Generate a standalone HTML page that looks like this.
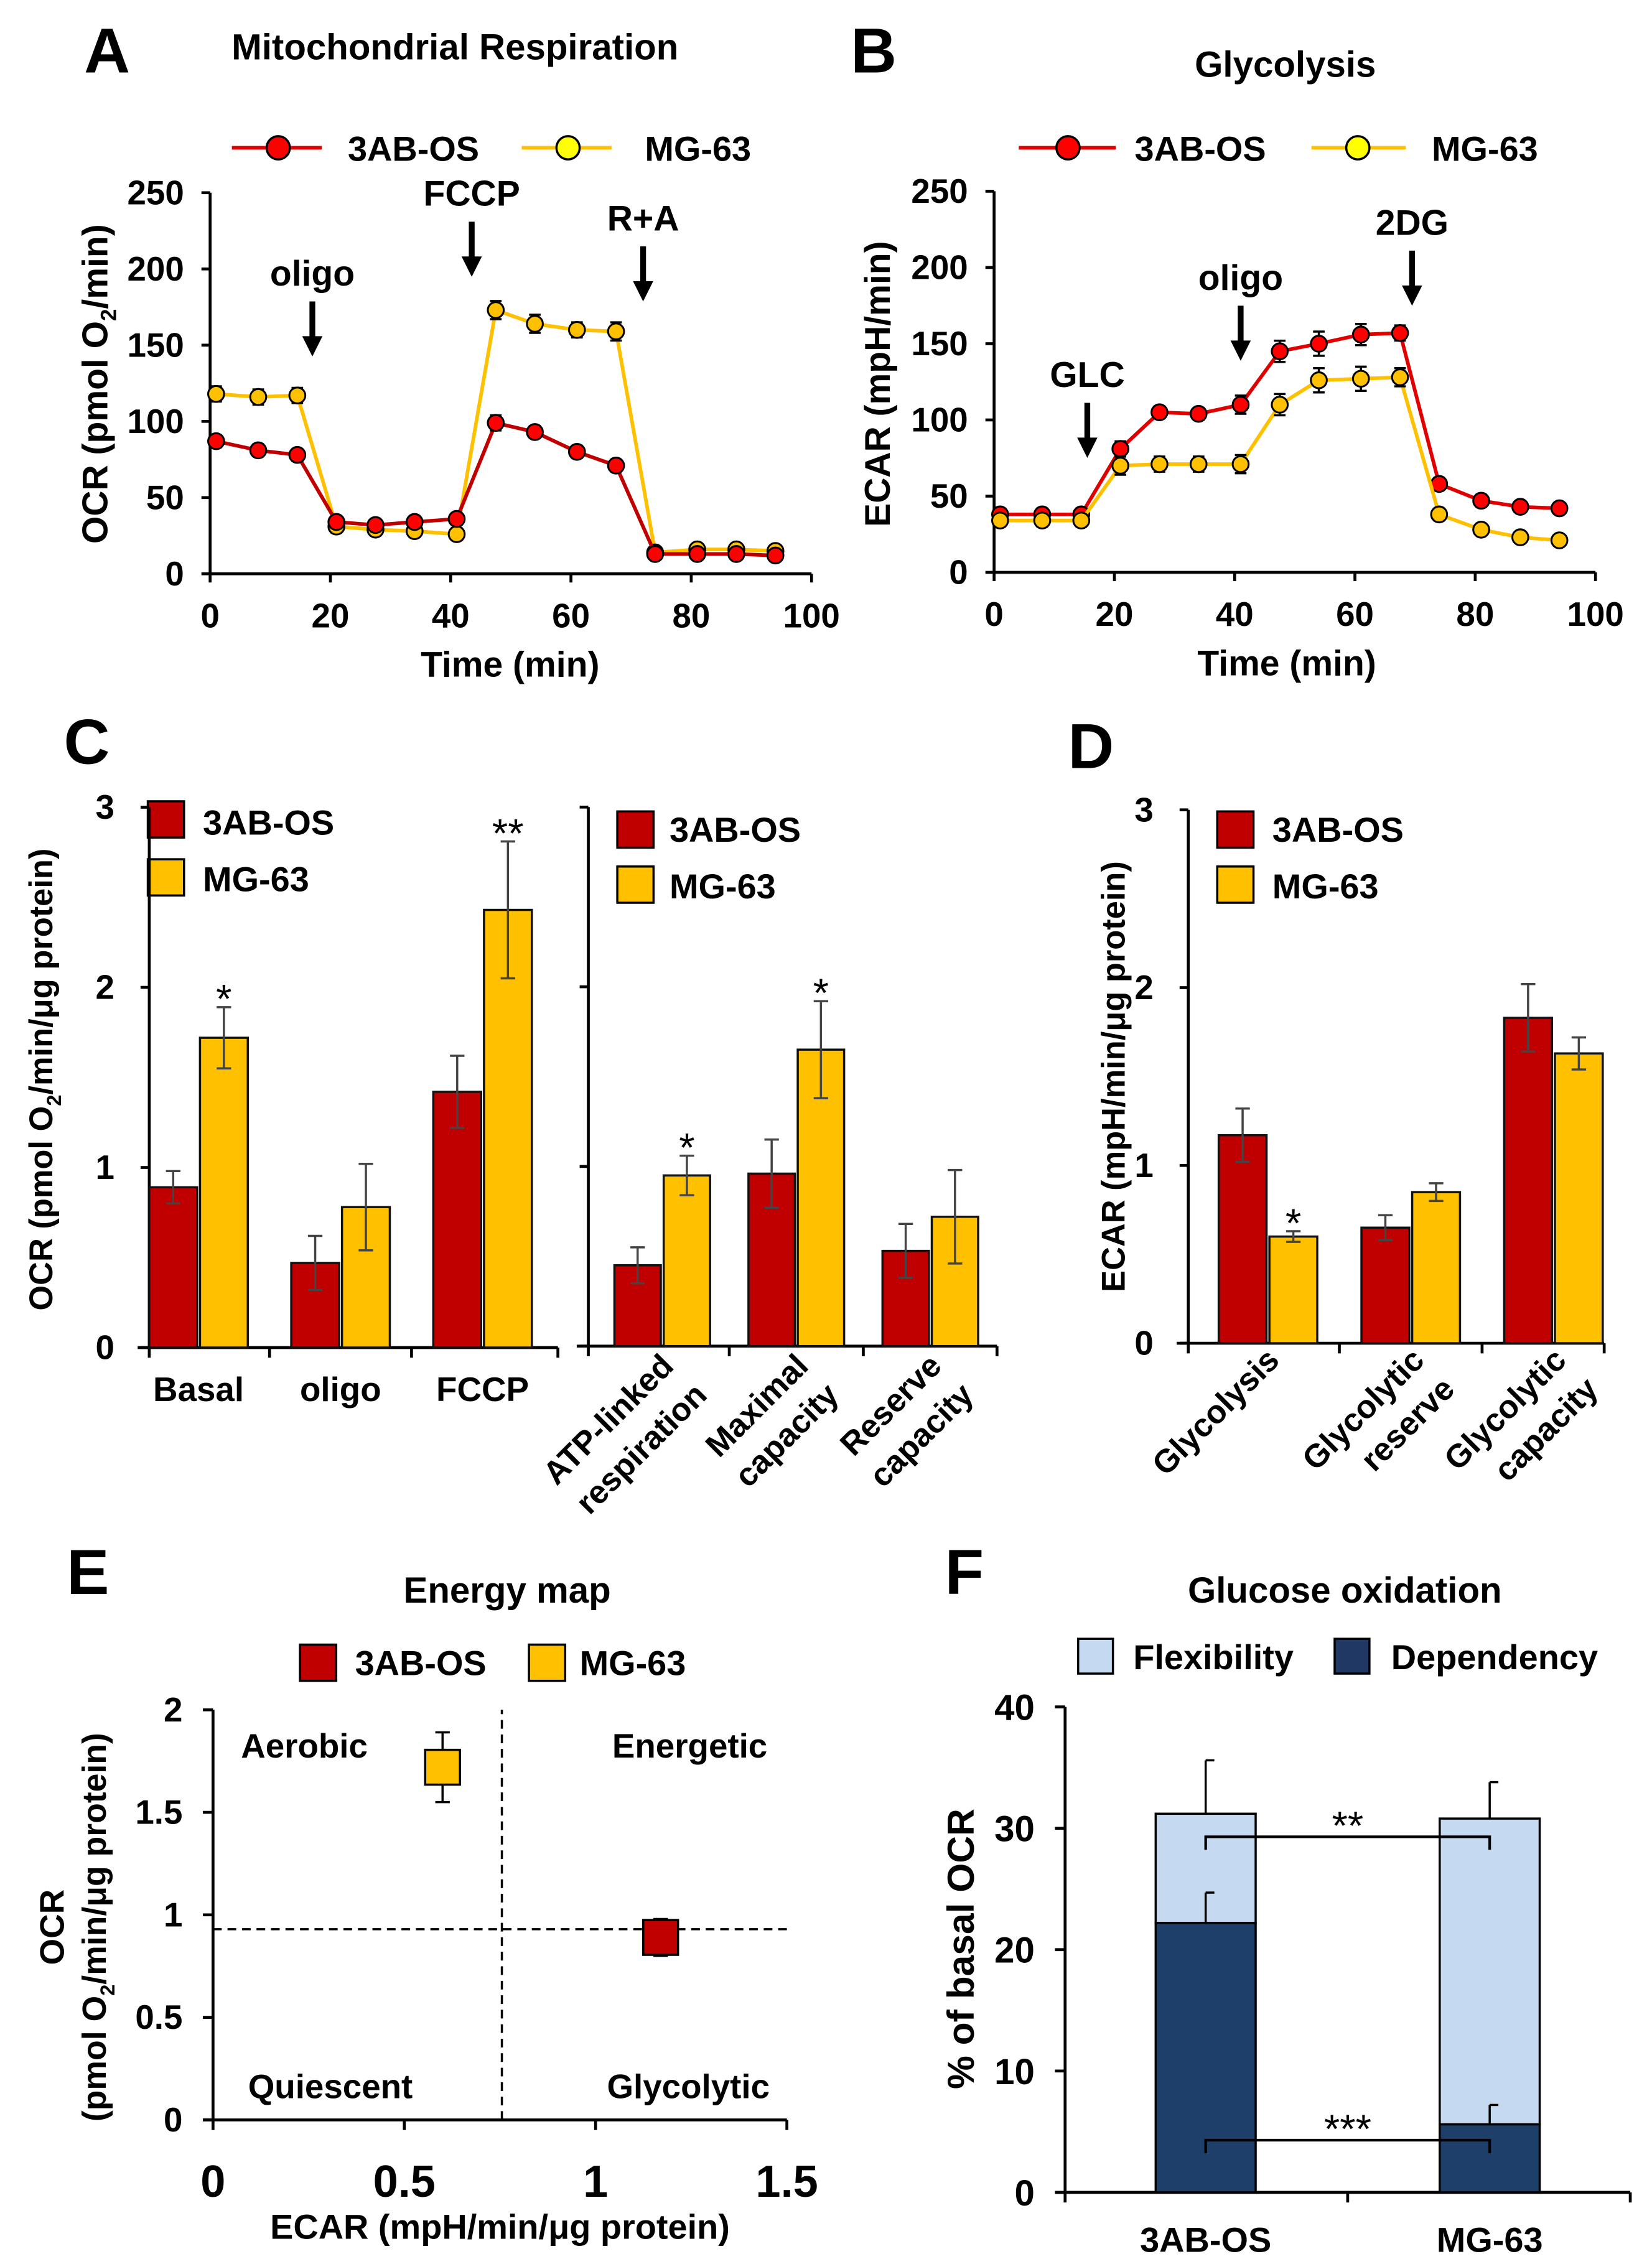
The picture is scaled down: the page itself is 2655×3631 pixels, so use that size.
<!DOCTYPE html>
<html><head><meta charset="utf-8"><style>
html,body{margin:0;padding:0;background:#fff;}
svg{display:block;font-family:"Liberation Sans",Arial,sans-serif;font-weight:bold;}
</style></head><body>
<svg id="fig" width="2655" height="3631" viewBox="0 0 1140 1559" preserveAspectRatio="none" xmlns="http://www.w3.org/2000/svg">
<rect width="1140" height="1559" fill="#fff"/>
<text x="58" y="50" font-size="44">A</text>
<text x="314" y="41" font-size="25" text-anchor="middle">Mitochondrial Respiration</text>
<text x="587" y="50" font-size="44">B</text>
<text x="887" y="53" font-size="25" text-anchor="middle">Glycolysis</text>
<text x="44" y="527" font-size="44">C</text>
<text x="737" y="530" font-size="44">D</text>
<text x="46" y="1100" font-size="44">E</text>
<text x="350" y="1106" font-size="25" text-anchor="middle">Energy map</text>
<text x="652" y="1100" font-size="44">F</text>
<text x="928" y="1106" font-size="25" text-anchor="middle">Glucose oxidation</text>

<text transform="translate(74,265) rotate(-90)" font-size="24.5" text-anchor="middle">OCR (pmol O<tspan font-size="15" dy="6">2</tspan><tspan dy="-6">/min)</tspan></text>
<text x="352" y="467" font-size="24.5" text-anchor="middle">Time (min)</text>
<text transform="translate(614,265) rotate(-90)" font-size="24.5" text-anchor="middle">ECAR (mpH/min)</text>
<text x="888" y="466" font-size="24.5" text-anchor="middle">Time (min)</text>
<text transform="translate(36,745) rotate(-90)" font-size="22.5" text-anchor="middle">OCR (pmol O<tspan font-size="14" dy="6">2</tspan><tspan dy="-6">/min/μg protein)</tspan></text>
<text transform="translate(776,743) rotate(-90)" font-size="22.5" text-anchor="middle">ECAR (mpH/min/μg protein)</text>
<text transform="translate(44,1330) rotate(-90)" font-size="23.5" text-anchor="middle">OCR</text>
<text transform="translate(73,1330) rotate(-90)" font-size="23" text-anchor="middle">(pmol O<tspan font-size="14" dy="6">2</tspan><tspan dy="-6">/min/μg protein)</tspan></text>
<text x="345" y="1545" font-size="24" text-anchor="middle">ECAR (mpH/min/μg protein)</text>
<text transform="translate(672,1345) rotate(-90)" font-size="26" text-anchor="middle">% of  basal OCR</text>

<g>
<line x1="160" y1="102" x2="222" y2="102" stroke="#e00000" stroke-width="2.5"/><circle cx="192" cy="102" r="8" fill="#ff0000" stroke="#000" stroke-width="1.5"/>
<text x="240" y="111" font-size="24">3AB-OS</text>
<line x1="360" y1="102" x2="422" y2="102" stroke="#ffc000" stroke-width="2.5"/><circle cx="392" cy="102" r="8" fill="#ffff00" stroke="#000" stroke-width="1.5"/>
<text x="445" y="111" font-size="24">MG-63</text>
</g>
<g>
<line x1="703" y1="102" x2="770" y2="102" stroke="#e00000" stroke-width="2.5"/><circle cx="737" cy="102" r="8" fill="#ff0000" stroke="#000" stroke-width="1.5"/>
<text x="783" y="111" font-size="24">3AB-OS</text>
<line x1="905" y1="102" x2="970" y2="102" stroke="#ffc000" stroke-width="2.5"/><circle cx="937" cy="102" r="8" fill="#ffff00" stroke="#000" stroke-width="1.5"/>
<text x="988" y="111" font-size="24">MG-63</text>
</g>
<g>
<rect x="102" y="553" width="25" height="25" fill="#c00000" stroke="#000" stroke-width="1.5"/><text x="140" y="576" font-size="24">3AB-OS</text>
<rect x="102" y="593" width="25" height="25" fill="#ffc000" stroke="#000" stroke-width="1.5"/><text x="140" y="615" font-size="24">MG-63</text>
</g>
<g>
<rect x="426" y="560" width="25" height="25" fill="#c00000" stroke="#000" stroke-width="1.5"/><text x="462" y="581" font-size="24">3AB-OS</text>
<rect x="426" y="598" width="25" height="25" fill="#ffc000" stroke="#000" stroke-width="1.5"/><text x="462" y="620" font-size="24">MG-63</text>
</g>
<g>
<rect x="840" y="560" width="25" height="25" fill="#c00000" stroke="#000" stroke-width="1.5"/><text x="878" y="581" font-size="24">3AB-OS</text>
<rect x="840" y="598" width="25" height="25" fill="#ffc000" stroke="#000" stroke-width="1.5"/><text x="878" y="620" font-size="24">MG-63</text>
</g>
<g>
<rect x="207" y="1135" width="25" height="25" fill="#c00000" stroke="#000" stroke-width="1.5"/><text x="245" y="1156" font-size="24">3AB-OS</text>
<rect x="365" y="1135" width="25" height="25" fill="#ffc000" stroke="#000" stroke-width="1.5"/><text x="400" y="1156" font-size="24">MG-63</text>
</g>
<g>
<rect x="744" y="1131" width="24" height="24" fill="#c5d9f1" stroke="#000" stroke-width="1.5"/><text x="782" y="1152" font-size="24">Flexibility</text>
<rect x="921" y="1131" width="24" height="24" fill="#1f3864" stroke="#000" stroke-width="1.5"/><text x="960" y="1152" font-size="24">Dependency</text>
</g>

<g font-size="22.5">
<text transform="translate(466,944) rotate(-45)" text-anchor="end">ATP-linked</text>
<text transform="translate(489,964) rotate(-45)" text-anchor="end">respiration</text>
<text transform="translate(559,944) rotate(-45)" text-anchor="end">Maximal</text>
<text transform="translate(580,964) rotate(-45)" text-anchor="end">capacity</text>
<text transform="translate(651,944) rotate(-45)" text-anchor="end">Reserve</text>
<text transform="translate(673,964) rotate(-45)" text-anchor="end">capacity</text>
</g>
<g font-size="22.5">
<text transform="translate(884,940) rotate(-45)" text-anchor="end">Glycolysis</text>
<text transform="translate(984,940) rotate(-45)" text-anchor="end">Glycolytic</text>
<text transform="translate(1005,960) rotate(-45)" text-anchor="end">reserve</text>
<text transform="translate(1082,940) rotate(-45)" text-anchor="end">Glycolytic</text>
<text transform="translate(1104,960) rotate(-45)" text-anchor="end">capacity</text>
</g>
<text x="210" y="1213" font-size="23.5" text-anchor="middle">Aerobic</text>
<text x="476" y="1213" font-size="23.5" text-anchor="middle">Energetic</text>
<text x="228" y="1448" font-size="23.5" text-anchor="middle">Quiescent</text>
<text x="475" y="1448" font-size="23.5" text-anchor="middle">Glycolytic</text>
<g id="dyn"></g>
</svg>
<script>
const timePoints=[1,8,14.5,21,27.5,34,41,47.5,54,61,67.5,74,81,87.5,94];
const ocr3AB=[87,81,78,34,32,34,36,99,93,80,71,13,13,13,12];
const ocr3ABErr=[3,3,3,3,3,3,3,4,3,3,3,2,2,2,2];
const ocrMG=[118,116,117,31,29,28,26,173,164,160,159,14,16,16,15];
const ocrMGErr=[4,4,4,3,3,3,3,5,5,4,5,2,2,2,2];
const ecar3AB=[38,38,38,81,105,104,110,145,150,156,157,58,47,43,42];
const ecar3ABErr=[3,3,3,4,3,3,5,6,7,6,4,3,3,2,2];
const ecarMG=[34,34,34,70,71,71,71,110,126,127,128,38,28,23,21];
const ecarMGErr=[3,3,3,5,4,4,5,6,7,7,5,3,2,2,2];
const injA=['oligo','FCCP','R+A'];
const injATime=[17,43.5,72];
const injB=['GLC','oligo','2DG'];
const injBTime=[15.5,41,69.5];
const timeTicks=[0,20,40,60,80,100];
const ocrTicks=[0,50,100,150,200,250];
const cLeftCats=['Basal','oligo','FCCP'];
const cLeft3AB=[0.89,0.47,1.42];
const cLeft3ABErr=[0.09,0.15,0.2];
const cLeftMG=[1.72,0.78,2.43];
const cLeftMGErr=[0.17,0.24,0.38];
const cLeftStars=['*','','**'];
const cRight3AB=[0.45,0.96,0.53];
const cRight3ABErr=[0.1,0.19,0.15];
const cRightMG=[0.95,1.65,0.72];
const cRightMGErr=[0.11,0.27,0.26];
const cRightStars=['*','*',''];
const d3AB=[1.17,0.65,1.83];
const d3ABErr=[0.15,0.07,0.19];
const dMG=[0.6,0.85,1.63];
const dMGErr=[0.03,0.05,0.09];
const dStars=['*','',''];
const barTicks=[0,1,2,3];
const eCells=['3AB-OS','MG-63'];
const eEcar=[1.17,0.6];
const eEcarErr=[0.03,0.03];
const eOcr=[0.89,1.72];
const eOcrErr=[0.09,0.17];
const eXTicks=[0,0.5,1,1.5];
const eYTicks=[0,0.5,1,1.5,2];
const eThreshX=0.755, eThreshY=0.93;
const fCats=['3AB-OS','MG-63'];
const fDependency=[22.2,5.6];
const fDependencyErr=[2.5,1.6];
const fTotal=[31.2,30.8];
const fTotalErr=[4.4,3];
const fTicks=[0,10,20,30,40];
const fSig=[{lvl:29.3,txt:'**'},{lvl:4.3,txt:'***'}];

const NS='http://www.w3.org/2000/svg';
const root=document.getElementById('dyn');
function mk(tag,attrs,parent){const e=document.createElementNS(NS,tag);for(const k in attrs)e.setAttribute(k,attrs[k]);(parent||root).appendChild(e);return e;}

function lineChart(key,x0,y0,xs,ys,ser,inj,injT,injLab){
  const sx=t=>x0+t*4.15, sy=v=>y0-v*1.052;
  let e=mk('line',{x1:x0,y1:y0,x2:x0,y2:sy(250),stroke:'#000','stroke-width':2});
  
  
  e=mk('line',{x1:x0,y1:y0,x2:sx(100),y2:y0,stroke:'#000','stroke-width':2});
  
  
  ocrTicks.forEach(v=>{
    mk('line',{x1:x0-6,y1:sy(v),x2:x0,y2:sy(v),stroke:'#000','stroke-width':2});
    const t=mk('text',{x:x0-18,y:sy(v)+8,'font-size':23.5,'text-anchor':'end'});t.textContent=v;
    
    
  });
  timeTicks.forEach(v=>{
    mk('line',{x1:sx(v),y1:y0,x2:sx(v),y2:y0+6,stroke:'#000','stroke-width':2});
    const t=mk('text',{x:sx(v),y:y0+37,'font-size':23.5,'text-anchor':'middle'});t.textContent=v;
    
    
  });
  ser.forEach(s=>{
    const pts=xs.map((t,i)=>sx(t)+','+sy(s.v[i])).join(' ');
    const pl=mk('polyline',{points:pts,fill:'none',stroke:s.line,'stroke-width':2.5});
    
    
    xs.forEach((t,i)=>{
      const cx=sx(t),cy=sy(s.v[i]),er=s.e[i]*1.052;
      mk('line',{x1:cx,y1:cy-er-1,x2:cx,y2:cy+er+1,stroke:'#000','stroke-width':1.5});
      mk('line',{x1:cx-4,y1:cy-er-1,x2:cx+4,y2:cy-er-1,stroke:'#000','stroke-width':1.5});
      mk('line',{x1:cx-4,y1:cy+er+1,x2:cx+4,y2:cy+er+1,stroke:'#000','stroke-width':1.5});
      const c=mk('circle',{cx:cx,cy:cy,r:5.5,fill:s.fill,stroke:'#000','stroke-width':1.3});
      
      
    });
  });
  inj.forEach((lab,i)=>{
    const x=sx(injT[i]),ty=injLab[i];
    const t=mk('text',{x:x,y:ty,'font-size':24.5,'text-anchor':'middle'});t.textContent=lab;
    
    
    const a=mk('path',{d:`M${x-2},${ty+11} h4 v24 h5 l-7,14 l-7,-14 h5 z`,fill:'#000'});
    
    
  });
}
lineChart('a',145,396,timePoints,timePoints,[
  {n:'mg63',v:ocrMG,e:ocrMGErr,line:'#ffc000',fill:'#ffc000'},
  {n:'3abos',v:ocr3AB,e:ocr3ABErr,line:'#c00000',fill:'#ff0000'}],injA,injATime,[197,142,159]);
lineChart('b',686,395,timePoints,timePoints,[
  {n:'3abos',v:ecar3AB,e:ecar3ABErr,line:'#e00000',fill:'#ff0000'},
  {n:'mg63',v:ecarMG,e:ecarMGErr,line:'#ffc000',fill:'#ffc000'}],injB,injBTime,[267,200,162]);

function barChart(key,axX,endX,y0,k,c0,step,w,cats,a,ae,b,be,stars,labels,catY){
  const sy=v=>y0-v*k;
  let e=mk('line',{x1:axX,y1:y0,x2:axX,y2:sy(3),stroke:'#000','stroke-width':2});
  
  
  e=mk('line',{x1:axX-8,y1:y0,x2:endX,y2:y0,stroke:'#000','stroke-width':2});
  
  
  barTicks.forEach(v=>{
    mk('line',{x1:axX-6,y1:sy(v),x2:axX,y2:sy(v),stroke:'#000','stroke-width':2});
    if(labels){const t=mk('text',{x:axX-24,y:sy(v)+8,'font-size':23.5,'text-anchor':'end'});t.textContent=v;
      
      }
  });
  for(let i=0;i<=cats.length;i++){const gx=i===cats.length?endX:c0-step/2+step*i+(i===0?axX-(c0-step/2):0);
    mk('line',{x1:gx,y1:y0,x2:gx,y2:y0+7,stroke:'#000','stroke-width':2});}
  cats.forEach((c,i)=>{
    const cx=c0+step*i;
    [[a,ae,'#c00000',cx-w-1,'3abos'],[b,be,'#ffc000',cx+1,'mg63']].forEach(([arr,err,col,x,n])=>{
      const r=mk('rect',{x:x,y:sy(arr[i]),width:w,height:arr[i]*k,fill:col,stroke:'#111','stroke-width':1.5});
      
      
      const mx=x+w/2,t1=sy(arr[i]+err[i]),t2=sy(arr[i]-err[i]);
      mk('line',{x1:mx,y1:t1,x2:mx,y2:t2,stroke:'#444','stroke-width':1.5});
      mk('line',{x1:mx-5,y1:t1,x2:mx+5,y2:t1,stroke:'#444','stroke-width':1.5});
      mk('line',{x1:mx-5,y1:t2,x2:mx+5,y2:t2,stroke:'#444','stroke-width':1.5});
    });
    if(stars[i]){const mx=cx+1+w/2;const s=mk('text',{x:mx,y:sy(b[i]+be[i])+4,'font-size':28,'font-weight':'normal','text-anchor':'middle'});s.textContent=stars[i];
      
      }
    if(catY){const t=mk('text',{x:cx,y:catY,'font-size':23.5,'text-anchor':'middle'});t.textContent=c;
      
      }
  });
}
barChart('c-left',103,385,930,124.3,137,98,33,cLeftCats,cLeft3AB,cLeft3ABErr,cLeftMG,cLeftMGErr,cLeftStars,true,967);
barChart('c-right',406,688,929,124,457,92.5,32,['ATP','Maximal','Reserve'],cRight3AB,cRight3ABErr,cRightMG,cRightMGErr,cRightStars,false,0);
barChart('d',820,1107,927,122.7,875,98.5,33,['Glycolysis','Glycolytic reserve','Glycolytic capacity'],d3AB,d3ABErr,dMG,dMGErr,dStars,true,0);

(function(){
  const sx=v=>147+v*264, sy=v=>1463-v*141.5;
  let e=mk('line',{x1:147,y1:1463,x2:147,y2:sy(2),stroke:'#000','stroke-width':2});
  
  
  e=mk('line',{x1:140,y1:1463,x2:sx(1.5),y2:1463,stroke:'#000','stroke-width':2});
  
  
  eXTicks.forEach(v=>{mk('line',{x1:sx(v),y1:1463,x2:sx(v),y2:1470,stroke:'#000','stroke-width':2});
    const t=mk('text',{x:sx(v),y:1516,'font-size':31,'text-anchor':'middle'});t.textContent=v;
    
    });
  eYTicks.forEach(v=>{mk('line',{x1:140,y1:sy(v),x2:147,y2:sy(v),stroke:'#000','stroke-width':2});
    const t=mk('text',{x:126,y:sy(v)+8,'font-size':23.5,'text-anchor':'end'});t.textContent=v;
    
    });
  e=mk('line',{x1:sx(eThreshX),y1:1463,x2:sx(eThreshX),y2:sy(2),stroke:'#000','stroke-width':1.5,'stroke-dasharray':'6,4'});
  
  
  e=mk('line',{x1:147,y1:sy(eThreshY),x2:sx(1.5),y2:sy(eThreshY),stroke:'#000','stroke-width':1.5,'stroke-dasharray':'6,4'});
  
  
  const cols=['#c00000','#ffc000'];
  eCells.forEach((c,i)=>{
    const x=sx(eEcar[i]),y=sy(eOcr[i]),ey=eOcrErr[i]*141.5,ex=eEcarErr[i]*264;
    mk('line',{x1:x,y1:y-ey,x2:x,y2:y+ey,stroke:'#000','stroke-width':1.5});
    mk('line',{x1:x-5,y1:y-ey,x2:x+5,y2:y-ey,stroke:'#000','stroke-width':1.5});
    mk('line',{x1:x-5,y1:y+ey,x2:x+5,y2:y+ey,stroke:'#000','stroke-width':1.5});
    mk('line',{x1:x-ex,y1:y,x2:x+ex,y2:y,stroke:'#000','stroke-width':1.5});
    const r=mk('rect',{x:x-12,y:y-12,width:24,height:24,fill:cols[i],stroke:'#000','stroke-width':1.5});
    
    
  });
})();

(function(){
  const sy=v=>1513-v*8.375, cx0=832, step=196, w=69;
  let e=mk('line',{x1:735,y1:1513,x2:735,y2:sy(40),stroke:'#000','stroke-width':2});
  
  
  e=mk('line',{x1:728,y1:1513,x2:1125,y2:1513,stroke:'#000','stroke-width':2});
  
  
  [735,930,1125].forEach(x=>mk('line',{x1:x,y1:1513,x2:x,y2:1520,stroke:'#000','stroke-width':2}));
  fTicks.forEach(v=>{mk('line',{x1:728,y1:sy(v),x2:735,y2:sy(v),stroke:'#000','stroke-width':2});
    const t=mk('text',{x:714,y:sy(v)+9,'font-size':25,'text-anchor':'end'});t.textContent=v;
    
    });
  fCats.forEach((c,i)=>{
    const cx=cx0+step*i,x=cx-w/2;
    let et=sy(fTotal[i]+fTotalErr[i]);
    mk('line',{x1:cx,y1:et,x2:cx,y2:sy(fTotal[i]),stroke:'#000','stroke-width':1.5});
    mk('line',{x1:cx,y1:et,x2:cx+6,y2:et,stroke:'#000','stroke-width':1.5});
    const r1=mk('rect',{x:x,y:sy(fTotal[i]),width:w,height:(fTotal[i]-fDependency[i])*8.375,fill:'#c5d9f1',stroke:'#000','stroke-width':1.5});
    
    
    const r2=mk('rect',{x:x,y:sy(fDependency[i]),width:w,height:fDependency[i]*8.375,fill:'#1f3f6b',stroke:'#000','stroke-width':1.5});
    
    
    et=sy(fDependency[i]+fDependencyErr[i]);
    mk('line',{x1:cx,y1:et,x2:cx,y2:sy(fDependency[i]),stroke:'#000','stroke-width':1.5});
    mk('line',{x1:cx,y1:et,x2:cx+6,y2:et,stroke:'#000','stroke-width':1.5});
    const t=mk('text',{x:cx,y:1554,'font-size':24,'text-anchor':'middle'});t.textContent=c;
    
    
  });
  fSig.forEach(s=>{
    const y=sy(s.lvl),x1=cx0,x2=cx0+step;
    const p=mk('path',{d:`M${x1},${y+9} V${y} H${x2} V${y+9}`,fill:'none',stroke:'#000','stroke-width':1.8});
    
    
    const t=mk('text',{x:(x1+x2)/2,y:y+2,'font-size':28,'font-weight':'normal','text-anchor':'middle'});t.textContent=s.txt;
    
    
  });
})();
</script>
</body></html>
